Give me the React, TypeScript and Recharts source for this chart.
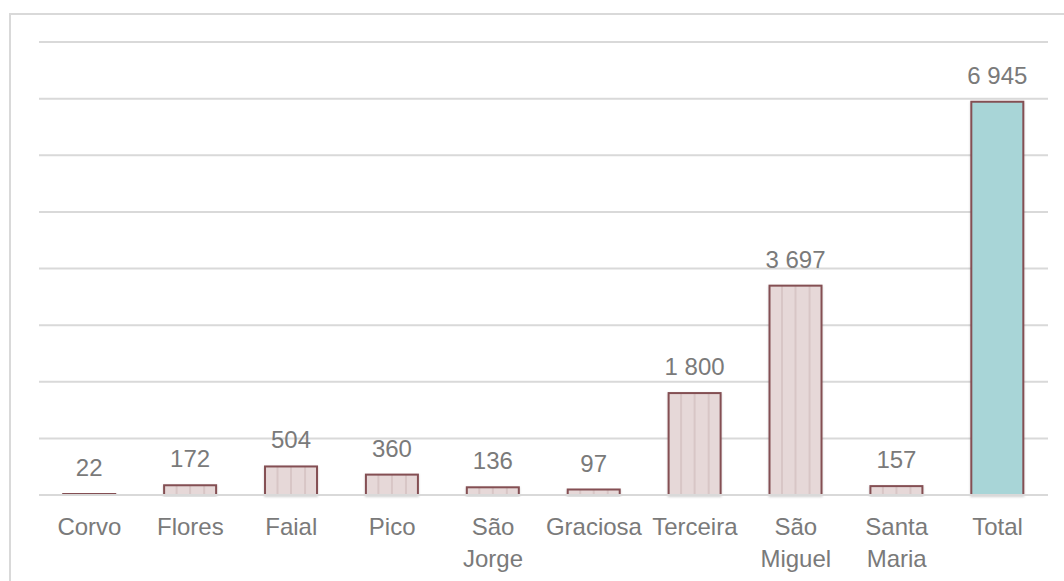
import React from 'react';
import { BarChart, Bar, XAxis, YAxis, CartesianGrid, LabelList, Cell } from 'recharts';

const islands = ['Corvo', 'Flores', 'Faial', 'Pico', 'São Jorge', 'Graciosa', 'Terceira', 'São Miguel', 'Santa Maria', 'Total'];
const counts = [22, 172, 504, 360, 136, 97, 1800, 3697, 157, 6945];
const yTicks = [0, 1000, 2000, 3000, 4000, 5000, 6000, 7000, 8000];

// words that get split on two lines under the axis
const wrapped: Record<string, string[]> = {
    'São Jorge': ['São', 'Jorge'],
    'São Miguel': ['São', 'Miguel'],
    'Santa Maria': ['Santa', 'Maria'],
};

const data = islands.map((name, i) => ({ name, value: counts[i] }));

const FONT = '"Liberation Sans", Arial, sans-serif';
const TEXT = '#7a7a7a';
const EDGE = '#844f53';

const fmt = (v: number) => String(v).replace(/\B(?=(\d{3})+(?!\d))/g, ' ');

const IslandTick = ({ x, y, payload }: any) => {
    const lines = wrapped[payload.value] || [payload.value];
    return (
        <text x={x} y={y} textAnchor="middle" fill={TEXT} fontSize={24} fontFamily={FONT}>
            {lines.map((l: string, i: number) => (
                <tspan key={i} x={x} dy={i === 0 ? 32 : 32}>{l}</tspan>
            ))}
        </text>
    );
};

const StripedBar = ({ x, y, width, height, payload }: any) => {
    const isTotal = payload.name === 'Total';
    const fill = isTotal ? '#a8d5d7' : '#e6d8d8';
    const h = Math.max(height, 1);
    return (
        <g filter="url(#barShadow)">
            <rect x={x} y={y} width={width} height={h} fill={fill} />
            {!isTotal && [0.24, 0.5, 0.77].map((f) => (
                <line key={f} x1={x + width * f} x2={x + width * f} y1={y} y2={y + h} stroke="#d8c6c6" strokeWidth={2} />
            ))}
            <rect x={x} y={y} width={width} height={h} fill="none" stroke={EDGE} strokeWidth={2} />
        </g>
    );
};

export default function App() {
    return (
        <div style={{ position: 'absolute', left: 0, top: 0, width: 1064, height: 581, background: '#fff', overflow: 'hidden' }}>
            <div style={{ position: 'absolute', left: 9, top: 13, width: 1070, height: 600, border: '2px solid #d9d9d9' }} />
            <BarChart
                width={1064}
                height={581}
                data={data}
                barCategoryGap="24%"
                margin={{ top: 42, right: 16, left: 39, bottom: 0 }}
            >
                <defs>
                    <filter id="barShadow" x="-20%" y="-20%" width="140%" height="140%">
                        <feDropShadow dx="0" dy="1" stdDeviation="1.2" floodColor="#000" floodOpacity="0.18" />
                    </filter>
                </defs>
                <CartesianGrid vertical={false} stroke="#d9d9d9" strokeWidth={2} />
                <XAxis
                    dataKey="name"
                    axisLine={{ stroke: '#d9d9d9', strokeWidth: 2 }}
                    tickLine={false}
                    interval={0}
                    height={86}
                    tick={<IslandTick />}
                />
                <YAxis hide domain={[0, 8000]} ticks={yTicks} width={0} />
                <Bar dataKey="value" isAnimationActive={false} shape={<StripedBar />}>
                    {data.map((d, i) => (
                        <Cell key={`cell-${i}`} />
                    ))}
                    <LabelList
                        dataKey="value"
                        position="top"
                        offset={18}
                        formatter={(v: any) => fmt(Number(v))}
                        style={{ fill: TEXT, fontSize: 24, fontFamily: FONT }}
                    />
                </Bar>
            </BarChart>
        </div>
    );
}
